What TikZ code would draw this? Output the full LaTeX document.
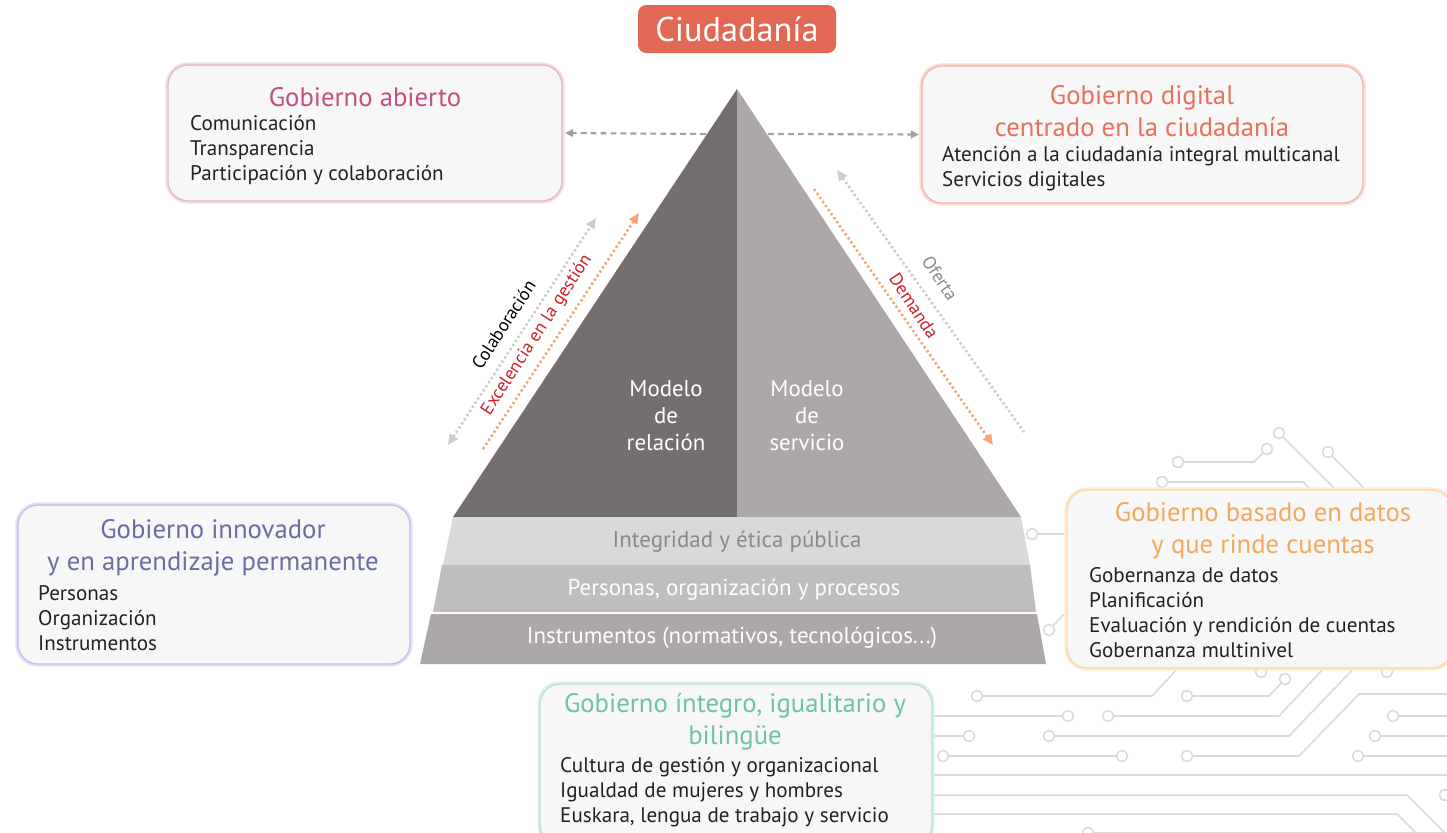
\documentclass[tikz,border=0pt]{standalone}
\usepackage{fontspec}
\setmainfont{PT Sans}
\usepackage{tikz}
\usetikzlibrary{arrows.meta, positioning, shapes.geometric}

\definecolor{ciudfill}{RGB}{224,104,84}
\definecolor{boxfill}{RGB}{247,247,247}
\definecolor{itemtext}{RGB}{34,34,34}
\definecolor{abiertoc}{RGB}{192,80,128}
\definecolor{abiertob}{RGB}{228,180,200}
\definecolor{digitalc}{RGB}{232,112,92}
\definecolor{digitalb}{RGB}{242,180,170}
\definecolor{innovc}{RGB}{104,110,160}
\definecolor{innovb}{RGB}{190,190,238}
\definecolor{datosc}{RGB}{242,170,90}
\definecolor{datosb}{RGB}{248,214,166}
\definecolor{integroc}{RGB}{110,196,160}
\definecolor{integrob}{RGB}{180,226,204}
\definecolor{pyrdark}{RGB}{116,111,110}
\definecolor{pyrlight}{RGB}{172,168,167}
\definecolor{bandone}{RGB}{217,217,217}
\definecolor{bandtwo}{RGB}{191,189,189}
\definecolor{bandthree}{RGB}{172,168,167}
\definecolor{bandgray}{RGB}{137,137,137}
\definecolor{labelred}{RGB}{208,32,40}
\definecolor{dotorange}{RGB}{244,168,120}
\definecolor{dotgray}{RGB}{205,205,205}
\definecolor{dashgray}{RGB}{160,160,160}
\definecolor{circuit}{RGB}{218,218,218}

\tikzset{
    govbox/.style={
        draw=#1,
        line width=1.1pt,
        rounded corners=0.6cm,
        fill=boxfill,
        inner sep=0pt,
        preaction={draw=#1!45, line width=4.5pt}
    },
    govtitle/.style={
        text=#1,
        font=\fontsize{22.8}{27.3}\selectfont,
        align=center,
        inner sep=0pt
    },
    govitems/.style={
        text=itemtext,
        font=\fontsize{18}{21.3}\selectfont,
        align=left,
        anchor=west,
        inner sep=0pt
    },
    bandtext/.style={
        font=\fontsize{19.6}{22}\selectfont,
        inner sep=0pt
    },
    modeltext/.style={
        text=white,
        font=\fontsize{19.5}{23}\selectfont,
        align=center,
        inner sep=0pt
    },
    arrowlabel/.style={
        font=\fontsize{15.5}{17}\selectfont,
        inner sep=0pt
    },
    dotline/.style={
        draw=#1,
        line width=2.2pt,
        dash pattern=on 2pt off 2.2pt
    },
    trace/.style={draw=circuit, line width=1.3pt},
    pad/.style={draw=circuit, fill=white, line width=1.3pt}
}

\begin{document}
\begin{tikzpicture}[x=0.03cm, y=-0.03cm]

\useasboundingbox (0,0) rectangle (1447,832);
\fill[white] (0,0) rectangle (1447,832);

% circuit board in the background
\draw[trace] (1279,433) -- (1340,494);
\draw[trace] (1267,449) -- (1254,462) -- (1178,462);
\draw[trace] (1328,452) -- (1370,494);
\draw[trace] (1162,482) -- (1303,482) -- (1315,494);
\draw[trace] (1032,534) -- (1072,534);
\draw[trace] (1049,630) -- (1072,606);
\draw[trace] (977,696) -- (1152,696) -- (1180,666);
\draw[trace] (1187,696) -- (1269,696) -- (1285,679);
\draw[trace] (925,716) -- (1068,716);
\draw[trace] (1108,716) -- (1279,716) -- (1326,666);
\draw[trace] (925,736) -- (969,736);
\draw[trace] (1049,736) -- (1289,736) -- (1356,666);
\draw[trace] (943,756) -- (1122,756);
\draw[trace] (1187,756) -- (1299,756) -- (1359,694) -- (1450,694);
\draw[trace] (1393,716) -- (1450,716);
\draw[trace] (1375,736) -- (1450,736);
\draw[trace] (1358,756) -- (1450,756);
\draw[trace] (925,775) -- (1450,775);
\draw[trace] (925,795) -- (1407,795) -- (1447,835);
\draw[trace] (1445,795) -- (1460,795);
\draw[trace] (925,814) -- (1397,814) -- (1417,834);
\draw[trace] (1088,833) -- (1450,833);
\foreach \p in {(1279,433), (1267,449), (1178,462), (1328,452), (1162,482),
                (1032,534), (1049,630), (1261,672), (1387,672),
                (977,696), (1187,696), (1285,679), (1068,716), (1108,716),
                (969,736), (1049,736), (943,756), (1122,756), (1187,756),
                (1393,716), (1375,736), (1358,756), (1445,795), (1088,833)}
    \draw[pad] \p circle[radius=5.5];

% pyramid
\fill[pyrdark] (737,89) -- (737,517) -- (453,517) -- cycle;
\fill[pyrlight] (737,89) -- (1021,517) -- (737,517) -- cycle;
\fill[bandone] (453,517) -- (1021,517) -- (1030,565) -- (443,565) -- cycle;
\fill[bandtwo] (442,565) -- (1030,565) -- (1036,612) -- (433,612) -- cycle;
\fill[bandthree] (431,614) -- (1037,614) -- (1046,664) -- (420,664) -- cycle;

\node[bandtext, text=bandgray] (integridad) at (737,542) {Integridad y ética pública};
\node[bandtext, text=white] (personas) at (734,590) {Personas, organización y procesos};
\node[bandtext, text=white] (instrumentos) at (732,638) {Instrumentos (normativos, tecnológicos...)};

\node[modeltext] (relacion) at (666,416) {Modelo\\de\\relación};
\node[modeltext] (servicio) at (807,416) {Modelo\\de\\servicio};

% title
\node[fill=ciudfill,
    rounded corners=0.25cm,
    minimum width=5.94cm,
    minimum height=1.44cm,
    text=white,
    font=\fontsize{29.3}{32}\selectfont
] (ciudadania) at (737,29) {Ciudadanía};

% boxes
\node[govbox=abiertob,
    minimum width=11.82cm,
    minimum height=4.08cm
] (abierto) at (365,133) {};
\node[govtitle=abiertoc] (abierto_title) at (365,97) {Gobierno abierto};
\node[govitems] (abierto_items) at (190,150.5) {Comunicación\\Transparencia\\Participación y colaboración};

\node[govbox=digitalb,
    minimum width=13.23cm,
    minimum height=4.11cm
] (digital) at (1142.5,134.5) {};
\node[govtitle=digitalc] (digital_title) at (1142,111) {Gobierno digital\\centrado en la ciudadanía};
\node[govitems] (digital_items) at (942,168.5) {Atención a la ciudadanía integral multicanal\\Servicios digitales};

\node[govbox=innovb,
    minimum width=11.76cm,
    minimum height=4.77cm
] (innovador) at (214,584.5) {};
\node[govtitle=innovc] (innovador_title) at (213,547.5) {Gobierno innovador\\y en aprendizaje permanente};
\node[govitems] (innovador_items) at (38,618.5) {Personas\\Organización\\Instrumentos};

\node[govbox=datosb,
    minimum width=11.55cm,
    minimum height=5.34cm
] (datos) at (1259.5,579) {};
\node[govtitle=datosc] (datos_title) at (1263,531) {Gobierno basado en datos\\y que rinde cuentas};
\node[govitems] (datos_items) at (1089,613) {Gobernanza de datos\\Planificación\\Evaluación y rendición de cuentas\\Gobernanza multinivel};

\node[govbox=integrob,
    minimum width=11.76cm,
    minimum height=4.83cm
] (integro) at (736,764.5) {};
\node[govtitle=integroc] (integro_title) at (735,722) {Gobierno íntegro, igualitario y\\bilingüe};
\node[govitems] (integro_items) at (560,792.5) {Cultura de gestión y organizacional\\Igualdad de mujeres y hombres\\Euskara, lengua de trabajo y servicio};

% connectors
\coordinate (apex_l) at (706,134);
\coordinate (apex_r) at (768,134);
\draw[dashgray, line width=1.8pt, dash pattern=on 5pt off 3.5pt,
    -{Triangle[length=7pt, width=6.5pt]}, shorten >=2pt] (apex_l) -- (abierto.east);
\draw[dashgray, line width=1.8pt, dash pattern=on 5pt off 3.5pt,
    -{Triangle[length=7pt, width=6.5pt]}, shorten >=2pt] (apex_r) -- (digital.west);

\coordinate (colab_lo) at (448,445);
\coordinate (colab_hi) at (596,218);
\coordinate (exc_lo) at (483,449);
\coordinate (exc_hi) at (639,213);
\coordinate (oferta_hi) at (837,170);
\coordinate (oferta_lo) at (1024,432);
\coordinate (dem_hi) at (814,189);
\coordinate (dem_lo) at (993,445);

\draw[dotline=dotgray, {Triangle[length=9pt, width=8pt]}-{Triangle[length=9pt, width=8pt]}] (colab_lo) -- (colab_hi);
\draw[dotline=dotorange, -{Triangle[length=9pt, width=8pt]}] (exc_lo) -- (exc_hi);
\draw[dotline=dotgray, {Triangle[length=9pt, width=8pt]}-] (oferta_hi) -- (oferta_lo);
\draw[dotline=dotorange, -{Triangle[length=9pt, width=8pt]}] (dem_hi) -- (dem_lo);

\node[arrowlabel, text=black, rotate=57] (colaboracion) at (503.5,324.5) {Colaboración};
\node[arrowlabel, text=labelred, rotate=57] (excelencia) at (537,335) {Excelencia en la gestión};
\node[arrowlabel, text=bandgray, rotate=-56.5] (oferta) at (940,278) {Oferta};
\node[arrowlabel, text=labelred, rotate=-56.5] (demanda) at (914,306) {Demanda};

\end{tikzpicture}
\end{document}
